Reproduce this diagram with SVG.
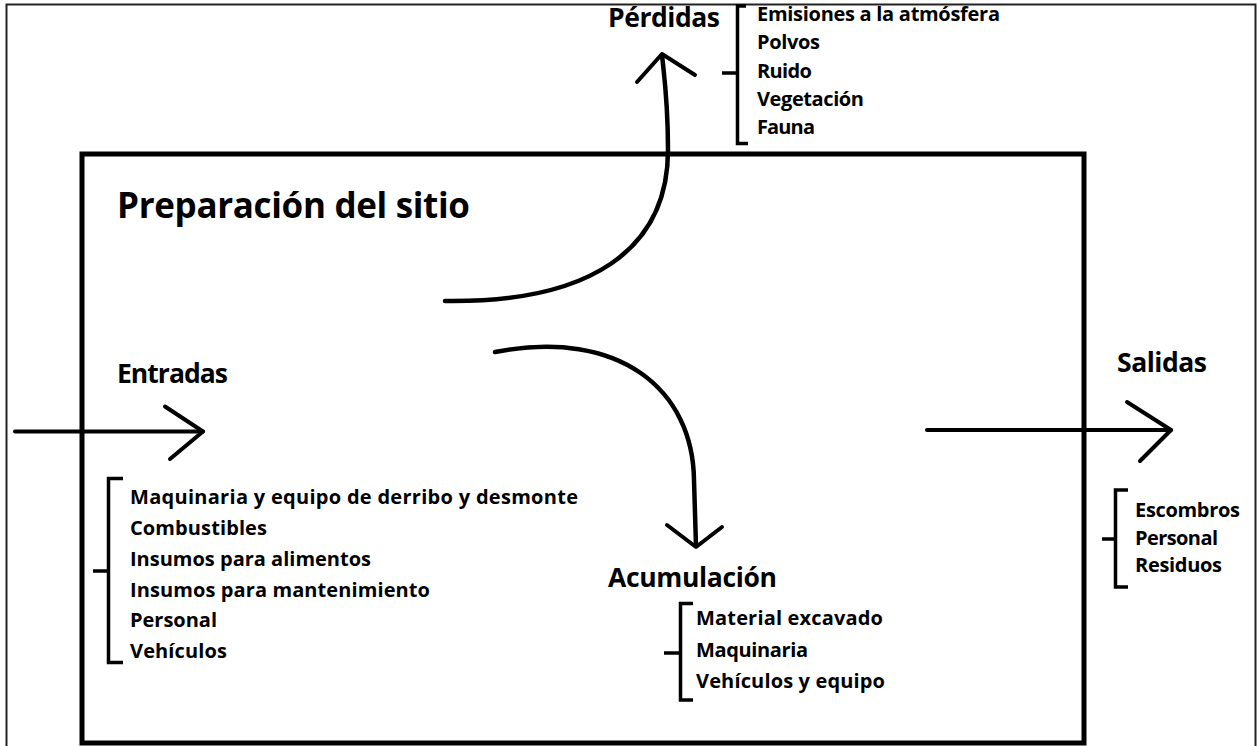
<svg xmlns="http://www.w3.org/2000/svg" width="1257" height="746" viewBox="0 0 1257 746">
<style>
  text { font-family: "Open Sans", "Noto Sans", "Liberation Sans", sans-serif; font-weight: bold; fill: #000; font-variant-ligatures: none; }
  .title { font-size: 35px; }
  .head { font-size: 26.5px; }
  .item { font-size: 20px; }
  .ln { fill: none; stroke: #000; stroke-linecap: round; stroke-linejoin: round; }
  .br { fill: none; stroke: #000; stroke-width: 3.5; stroke-linejoin: miter; }
</style>
<rect x="0" y="0" width="1257" height="746" fill="#fff"/>
<rect x="6.5" y="4.5" width="1249" height="800" fill="none" stroke="#222" stroke-width="2"/>

<g id="proceso">
  <rect x="82" y="154" width="1002" height="589" fill="none" stroke="#000" stroke-width="5"/>
  <text class="title" x="117" y="218" textLength="353">Preparación del sitio</text>
</g>

<g id="entradas">
  <text class="head" x="117" y="383" textLength="111">Entradas</text>
  <path class="br" d="M123,478.5 H108.5 V662.5 H123 M93,571 H108.5"/>
  <text class="item" x="130" y="504" textLength="448">Maquinaria y equipo de derribo y desmonte</text>
  <text class="item" x="130" y="535" textLength="137">Combustibles</text>
  <text class="item" x="130" y="566" textLength="241">Insumos para alimentos</text>
  <text class="item" x="130" y="597" textLength="300">Insumos para mantenimiento</text>
  <text class="item" x="130" y="627" textLength="87">Personal</text>
  <text class="item" x="130" y="658" textLength="97">Vehículos</text>
</g>

<g id="perdidas">
  <text class="head" x="608" y="27" textLength="112">Pérdidas</text>
  <path class="br" d="M746,6 H737.5 V143.5 H748 M722,73 H737.5"/>
  <text class="item" x="757" y="21" textLength="243">Emisiones a la atmósfera</text>
  <text class="item" x="757" y="49" textLength="63">Polvos</text>
  <text class="item" x="757" y="78" textLength="55">Ruido</text>
  <text class="item" x="757" y="106" textLength="107">Vegetación</text>
  <text class="item" x="757" y="134" textLength="58">Fauna</text>
</g>

<g id="acumulacion">
  <text class="head" x="608" y="587" textLength="169">Acumulación</text>
  <path class="br" d="M693,603.5 H680.5 V700 H693 M664,653 H680.5"/>
  <text class="item" x="696" y="625" textLength="187">Material excavado</text>
  <text class="item" x="696" y="657" textLength="112">Maquinaria</text>
  <text class="item" x="696" y="688" textLength="189">Vehículos y equipo</text>
</g>

<g id="salidas">
  <text class="head" x="1117" y="372" textLength="90">Salidas</text>
  <path class="br" d="M1128,490 H1115.5 V587 H1128 M1102,539 H1115.5"/>
  <text class="item" x="1135" y="517" textLength="105">Escombros</text>
  <text class="item" x="1135" y="545" textLength="83">Personal</text>
  <text class="item" x="1135" y="572" textLength="87">Residuos</text>
</g>

<g id="conectores">
  <path class="ln" stroke-width="4" d="M15,431.5 H203"/>
  <path class="ln" stroke-width="4" d="M165,406.5 L203,431.5 L170,459"/>
  <path class="ln" stroke-width="4" d="M927,430 H1171"/>
  <path class="ln" stroke-width="4" d="M1127,402 L1171,430 L1140,461"/>
  <path class="ln" stroke-width="4.5" d="M445,301 C590,303 668,250 668,150 C668,100 664,75 662,55"/>
  <path class="ln" stroke-width="4" d="M637,82 L662,54 L695,75"/>
  <path class="ln" stroke-width="4.5" d="M495,352 C620,328 693,390 694,480 L696,546"/>
  <path class="ln" stroke-width="4" d="M667,525 L696,547 L722,527"/>
</g>
</svg>
